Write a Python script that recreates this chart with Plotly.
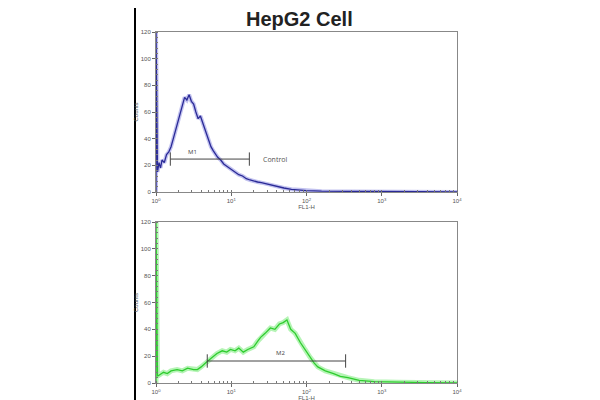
import plotly.graph_objects as go

# ---------------- data ----------------
# Control (top panel): log10(FL1-H) and counts
ctrl_log = [0.00, 0.00, 0.02, 0.04, 0.06, 0.08, 0.11, 0.14, 0.17, 0.20, 0.23, 0.26, 0.29,
            0.32, 0.35, 0.38, 0.41, 0.44, 0.47, 0.50, 0.53, 0.56, 0.59, 0.62, 0.65, 0.68,
            0.70, 0.73, 0.76, 0.79, 0.82, 0.86, 0.90, 0.95, 1.00, 1.05, 1.10, 1.15, 1.20,
            1.25, 1.30, 1.35, 1.40, 1.50, 1.60, 1.70, 1.80, 1.90, 2.00, 2.20, 2.50, 3.00,
            3.50, 4.00]
ctrl_counts = [0, 120, 15, 22, 18, 24, 22, 28, 30, 34, 40, 46, 52,
               60, 66, 71, 69, 73, 68, 66, 60, 55, 57, 52, 48, 42,
               38, 34, 31, 28, 26, 24, 21, 19, 17, 15, 13, 12, 10,
               9, 8, 7.5, 7, 5.5, 4, 3, 2, 1.5, 1, 0.6, 0.4, 0.3,
               0.2, 0]

# Sample (bottom panel)
samp_log = [0.00, 0.00, 0.02, 0.05, 0.10, 0.15, 0.20, 0.28, 0.35, 0.42, 0.50, 0.55, 0.60,
            0.68, 0.74, 0.81, 0.88, 0.94, 0.99, 1.05, 1.10, 1.16, 1.22, 1.30, 1.35, 1.39,
            1.45, 1.52, 1.58, 1.64, 1.69, 1.74, 1.79, 1.85, 1.92, 1.98, 2.05, 2.10, 2.15,
            2.25, 2.36, 2.45, 2.55, 2.70, 2.90, 3.20, 3.60, 4.00]
samp_counts = [0, 120, 5, 6, 8, 7, 9, 10, 9, 11, 10, 10, 12,
               16, 19, 22, 24, 23, 25, 24, 26, 23, 25, 27, 31, 34,
               37, 41, 40, 44, 45, 47, 40, 37, 30, 25, 19, 15, 12,
               9, 7, 5, 4, 2, 1, 0.5, 0.3, 0]

x_tick_vals = [1, 10, 100, 1000, 10000]
x_tick_text = ["10<sup>0</sup>", "10<sup>1</sup>", "10<sup>2</sup>", "10<sup>3</sup>", "10<sup>4</sup>"]
y_tick_vals = [0, 20, 40, 60, 80, 100, 120]

# gates
m1_range = [1.55, 17.4]
m1_level = 24.7
m2_range = [4.8, 331]
m2_level = 16.4

ctrl_x = [10 ** v for v in ctrl_log]
samp_x = [10 ** v for v in samp_log]

fig = go.Figure()

fig.add_trace(go.Scatter(x=ctrl_x, y=ctrl_counts, mode="lines", xaxis="x", yaxis="y",
                         line=dict(color="rgba(120,120,220,0.45)", width=4), hoverinfo="skip"))
fig.add_trace(go.Scatter(x=ctrl_x, y=ctrl_counts, mode="lines", xaxis="x", yaxis="y",
                         line=dict(color="#2a2a96", width=1.3)))
fig.add_trace(go.Scatter(x=samp_x, y=samp_counts, mode="lines", xaxis="x2", yaxis="y2",
                         line=dict(color="rgba(90,230,90,0.45)", width=5), hoverinfo="skip"))
fig.add_trace(go.Scatter(x=samp_x, y=samp_counts, mode="lines", xaxis="x2", yaxis="y2",
                         line=dict(color="#2ecc2e", width=1.3)))


def gate(xr, level, xa, ya):
    fig.add_trace(go.Scatter(x=[xr[0], xr[1]], y=[level, level], mode="lines", xaxis=xa, yaxis=ya,
                             line=dict(color="#444444", width=1)))
    for xv in xr:
        fig.add_trace(go.Scatter(x=[xv, xv], y=[level - 5, level + 5], mode="lines", xaxis=xa, yaxis=ya,
                                 line=dict(color="#444444", width=1)))


gate(m1_range, m1_level, "x", "y")
gate(m2_range, m2_level, "x2", "y2")

tick_font = dict(size=6, color="#555555", family="Liberation Sans")
axis_common = dict(type="log", range=[0, 4], tickvals=x_tick_vals, ticktext=x_tick_text,
                   showgrid=False, zeroline=False, showline=True, linecolor="#888888",
                   mirror=True, ticks="outside", ticklen=3, tickcolor="#666666",
                   tickfont=tick_font, automargin=False,
                   minor=dict(ticks="inside", ticklen=2, dtick="D1", tickcolor="#777777", showgrid=False))
yaxis_common = dict(range=[0, 120], tickvals=y_tick_vals, showgrid=False, zeroline=False,
                    showline=True, linecolor="#888888", mirror=True, ticks="outside",
                    ticklen=3, tickcolor="#666666", tickfont=tick_font, automargin=False,
                    minor=dict(ticks="inside", ticklen=2, dtick=4, tickcolor="#777777", showgrid=False))

# page offset of the figure inside the browser window (body margin)
OFF = 8
W, H = 600, 400


def px_x(p):
    return (p - OFF) / W


def px_y(p):
    return 1 - (p - OFF) / H


title_font = dict(size=6, color="#555555", family="Liberation Sans")
fig.update_layout(
    width=W, height=H, showlegend=False,
    paper_bgcolor="white", plot_bgcolor="white",
    margin=dict(l=0, r=0, t=0, b=0, autoexpand=False),
    xaxis=dict(axis_common, domain=[px_x(156), px_x(457)], anchor="y",
               title=dict(text="FL1-H", font=title_font, standoff=1)),
    yaxis=dict(yaxis_common, domain=[px_y(192), px_y(32)], anchor="x",
               title=dict(text="Counts", font=title_font, standoff=1)),
    xaxis2=dict(axis_common, domain=[px_x(156), px_x(457)], anchor="y2",
                title=dict(text="FL1-H", font=title_font, standoff=1)),
    yaxis2=dict(yaxis_common, domain=[px_y(383), px_y(222)], anchor="x2",
                title=dict(text="Counts", font=title_font, standoff=1)),
    shapes=[dict(type="line", xref="paper", yref="paper", x0=px_x(135), x1=px_x(135), y0=0, y1=1,
                 line=dict(color="black", width=2))],
    annotations=[
        dict(text="<b>HepG2 Cell</b>", xref="paper", yref="paper", x=px_x(299), y=px_y(19),
             xanchor="center", yanchor="middle", showarrow=False,
             font=dict(size=20, color="#222222", family="Liberation Sans")),
        dict(text="M1", xref="x", yref="y", x=0.48, y=m1_level + 5, showarrow=False,
             font=dict(size=6, color="#444444")),
        dict(text="Control", xref="x", yref="y", x=1.39, y=m1_level, showarrow=False, xanchor="left",
             font=dict(size=7, color="#555555")),
        dict(text="M2", xref="x2", yref="y2", x=1.65, y=m2_level + 6, showarrow=False,
             font=dict(size=6, color="#444444")),
    ],
)

fig.write_html("out.html")
